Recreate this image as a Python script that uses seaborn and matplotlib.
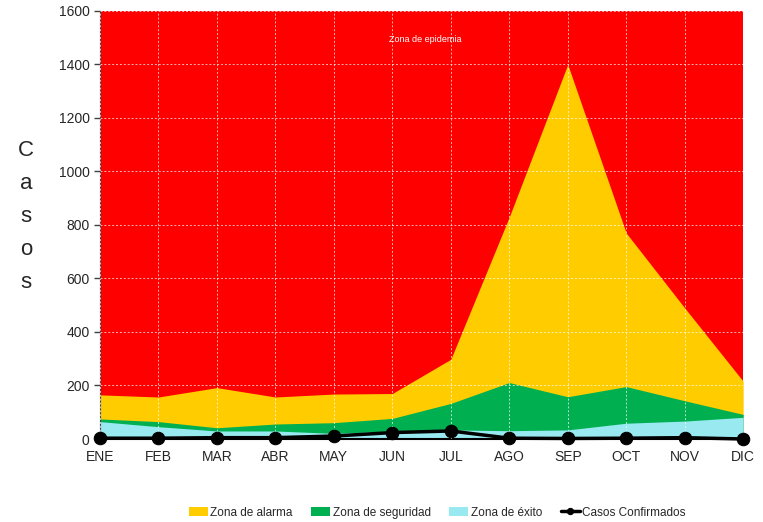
import matplotlib
matplotlib.use("Agg")
import matplotlib.pyplot as plt
import seaborn as sns
import pandas as pd

# datos del canal endemico
meses = ["ENE", "FEB", "MAR", "ABR", "MAY", "JUN", "JUL", "AGO", "SEP", "OCT", "NOV", "DIC"]
alarma = [165, 157, 192, 157, 168, 170, 298, 830, 1400, 770, 490, 216]
seguridad = [75, 65, 42, 56, 61, 77, 133, 211, 158, 196, 143, 92]
exito = [65, 46, 30, 30, 21, 30, 34, 31, 34, 59, 67, 81]
confirmados = [3, 3, 5, 5, 11, 24, 30, 3, 2, 3, 5, 0]

df = pd.DataFrame({"mes": range(len(meses)), "alarma": alarma, "seguridad": seguridad,
                   "exito": exito, "confirmados": confirmados})

sns.set_style("white")
plt.rcParams["font.family"] = ["Liberation Sans", "DejaVu Sans"]

fig = plt.figure(figsize=(7.63, 5.22), dpi=100)
ax = fig.add_axes([0.131, 0.159, 0.843, 0.82])
ax.set_facecolor("#FF0000")

ax.fill_between(df["mes"], 0, df["alarma"], color="#FFCC00", linewidth=0, label="Zona de alarma")
ax.fill_between(df["mes"], 0, df["seguridad"], color="#00B050", linewidth=0, label="Zona de seguridad")
ax.fill_between(df["mes"], 0, df["exito"], color="#99E9F1", linewidth=0, label="Zona de éxito")
sns.lineplot(data=df, x="mes", y="confirmados", ax=ax, color="black", linewidth=2.5,
             marker="o", markersize=9, markeredgecolor="black", clip_on=False,
             label="Casos Confirmados", zorder=5)

ax.set_xlim(0, 11)
ax.set_ylim(0, 1600)
ax.set_xticks(range(len(meses)))
ax.set_xticklabels(meses, fontsize=10)
ax.set_yticks(range(0, 1601, 200))
ax.tick_params(axis="y", labelsize=10, length=4, width=1, left=True, color="#404040")
ax.tick_params(axis="x", length=0, pad=8)
ax.grid(True, color="white", linestyle=(0, (2, 2)), linewidth=0.7, alpha=0.7)
ax.set_axisbelow(False)
for g in ax.get_xgridlines() + ax.get_ygridlines():
    g.set_zorder(1.5)
for s in ["top", "right"]:
    ax.spines[s].set_visible(False)
ax.spines["left"].set_color("#404040")
ax.spines["bottom"].set_color("black")
ax.spines["bottom"].set_linewidth(1.5)
ax.set_xlabel("")
ax.set_ylabel("")

ax.text(5.56, 1492, "Zona de epidemia", color="white", fontsize=6.5, ha="center", va="center")
fig.text(0.034, 0.585, "C\na\ns\no\ns", fontsize=16, ha="center", va="center", linespacing=1.75)

handles, labels = ax.get_legend_handles_labels()
ax.legend_.remove()
fig.legend(handles, labels, loc="center", bbox_to_anchor=(0.573, 0.018), ncol=4, frameon=False,
           fontsize=8.5, columnspacing=1.6, handlelength=1.6, handletextpad=0.2, markerscale=0.5)

fig.savefig("out.png", dpi=100)
